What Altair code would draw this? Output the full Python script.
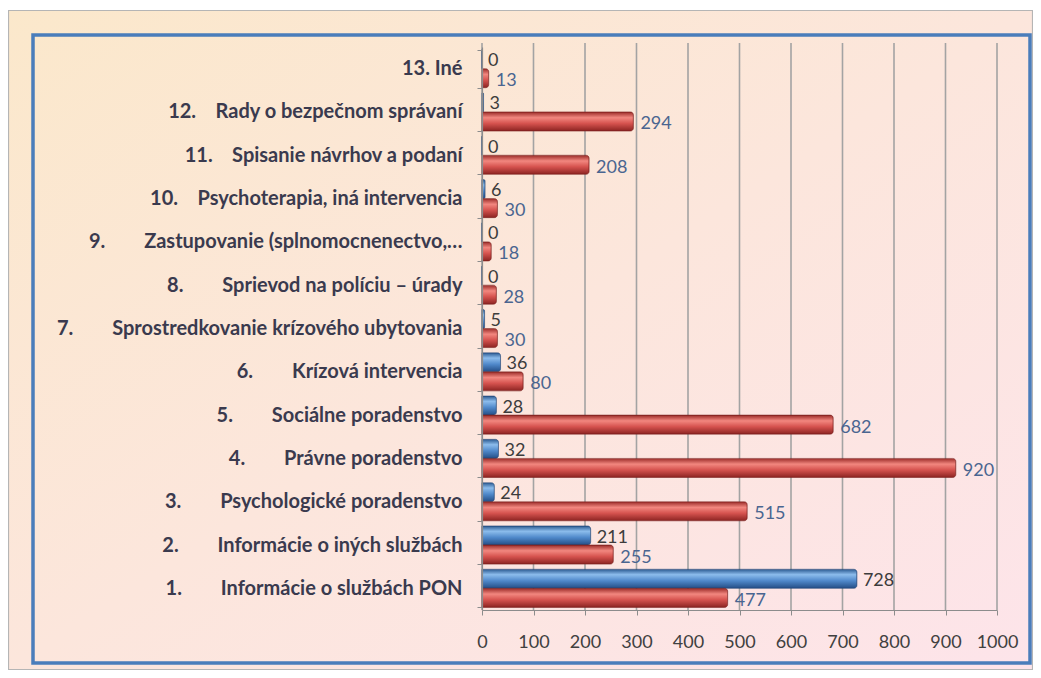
import altair as alt
import pandas as pd

# ---- data (top to bottom, as in the reference) ----
nums = ["13.", "12.", "11.", "10.", "9.", "8.", "7.", "6.", "5.", "4.", "3.", "2.", "1."]
names = [
    "Iné",
    "Rady o bezpečnom správaní",
    "Spisanie návrhov a podaní",
    "Psychoterapia, iná intervencia",
    "Zastupovanie (splnomocnenectvo,…",
    "Sprievod na políciu – úrady",
    "Sprostredkovanie krízového ubytovania",
    "Krízová intervencia",
    "Sociálne poradenstvo",
    "Právne poradenstvo",
    "Psychologické poradenstvo",
    "Informácie o iných službách",
    "Informácie o službách PON",
]
blue_vals = [0, 3, 0, 6, 0, 0, 5, 36, 28, 32, 24, 211, 728]
red_vals = [13, 294, 208, 30, 18, 28, 30, 80, 682, 920, 515, 255, 477]
x_ticks = [0, 100, 200, 300, 400, 500, 600, 700, 800, 900, 1000]

NB = "\u00a0"
labels = []
for n, t in zip(nums, names):
    if n == "13.":
        sep = " "
    elif len(n) == 3:
        sep = NB * 4
    else:
        sep = NB * 8
    labels.append(n + sep + t)

rows = []
for lab, b, r in zip(labels, blue_vals, red_vals):
    rows.append({"cat": lab, "series": "s1", "value": b})
    rows.append({"cat": lab, "series": "s2", "value": r})
df = pd.DataFrame(rows)
grid_df = pd.DataFrame({"v": x_ticks})
one = pd.DataFrame({"k": [0]})

W, H = 515, 563
PL, PT, PR, PB = 474, 39, 36, 60
FONT = "Lato"

# ---- decoration ----
bg = alt.Chart(one).mark_rect(
    color=alt.Gradient(
        gradient="linear",
        stops=[
            alt.GradientStop(color="#fbe8cb", offset=0),
            alt.GradientStop(color="#fce6dc", offset=0.5),
            alt.GradientStop(color="#fde4ea", offset=1),
        ],
        x1=0, y1=0, x2=1, y2=1,
    )
).encode(
    x=alt.value(-PL), x2=alt.value(W + PR), y=alt.value(-PT + 2), y2=alt.value(H + PB)
)

gray_frame = alt.Chart(one).mark_rect(
    fillOpacity=0, stroke="#b5b5b5", strokeWidth=1.2
).encode(
    x=alt.value(-PL + 0.5), x2=alt.value(W + PR - 0.5), y=alt.value(-PT + 2.5), y2=alt.value(H + PB - 0.5)
)

blue_frame = alt.Chart(one).mark_rect(
    fillOpacity=0, stroke="#4a7dbb", strokeWidth=3.5
).encode(
    x=alt.value(-449), x2=alt.value(548), y=alt.value(-12), y2=alt.value(616)
)

grid = alt.Chart(grid_df).mark_rule(color="#a3a3a3", strokeWidth=1.6).encode(
    x=alt.X("v:Q", scale=alt.Scale(domain=[0, 1000])),
    y=alt.value(-4),
    y2=alt.value(H),
)

# ---- bars ----
y_enc = alt.Y(
    "cat:N",
    sort=labels,
    scale=alt.Scale(paddingInner=0.12, paddingOuter=0.06),
    axis=alt.Axis(
        title=None,
        labelFont=FONT,
        labelFontWeight="bold",
        labelFontSize=20,
        labelColor="#3a3a4e",
        labelPadding=15,
        labelLimit=600,
        ticks=True,
        tickBand="extent",
        tickSize=5,
        tickColor="#8c8c8c",
        domainColor="#8c8c8c",
        domainWidth=1.2,
        zindex=1,
    ),
)
x_enc = alt.X(
    "value:Q",
    scale=alt.Scale(domain=[0, 1000], nice=False),
    axis=alt.Axis(
        title=None,
        values=x_ticks,
        format="d",
        labelOverlap=False,
        labelFlush=False,
        grid=False,
        labelFont=FONT,
        labelFontSize=18,
        labelColor="#404040",
        labelPadding=18,
        tickSize=5,
        tickColor="#8c8c8c",
        domainColor="#8c8c8c",
        domainWidth=1.2,
        zindex=1,
    ),
)
yoff = alt.YOffset("series:N", scale=alt.Scale(domain=["s1", "s2"]))

blue_grad = alt.Gradient(
    gradient="linear",
    stops=[
        alt.GradientStop(color="#2b5a91", offset=0),
        alt.GradientStop(color="#8cbcec", offset=0.28),
        alt.GradientStop(color="#5089cb", offset=0.6),
        alt.GradientStop(color="#234d85", offset=1),
    ],
    x1=0, y1=0, x2=0, y2=1,
)
red_grad = alt.Gradient(
    gradient="linear",
    stops=[
        alt.GradientStop(color="#9a2b28", offset=0),
        alt.GradientStop(color="#f2877f", offset=0.3),
        alt.GradientStop(color="#d6534f", offset=0.6),
        alt.GradientStop(color="#8c2422", offset=1),
    ],
    x1=0, y1=0, x2=0, y2=1,
)

bars_blue = alt.Chart(df).transform_filter(alt.datum.series == "s1").mark_bar(
    color=blue_grad, cornerRadiusEnd=3, stroke="#24487a", strokeWidth=0.6
).encode(x=x_enc, y=y_enc, yOffset=yoff)

bars_red = alt.Chart(df).transform_filter(alt.datum.series == "s2").mark_bar(
    color=red_grad, cornerRadiusEnd=3, stroke="#7e2220", strokeWidth=0.6
).encode(x=x_enc, y=y_enc, yOffset=yoff)

txt_blue = alt.Chart(df).transform_filter(alt.datum.series == "s1").mark_text(
    align="left", baseline="middle", dx=6, dy=2, font=FONT, fontSize=18, color="#3c3c3c"
).encode(x=x_enc, y=y_enc, yOffset=yoff, text="value:Q")

txt_red = alt.Chart(df).transform_filter(alt.datum.series == "s2").mark_text(
    align="left", baseline="middle", dx=7, dy=3, font=FONT, fontSize=18, color="#4a6590"
).encode(x=x_enc, y=y_enc, yOffset=yoff, text="value:Q")

chart = alt.layer(
    bg, gray_frame, blue_frame, grid, bars_blue, bars_red, txt_blue, txt_red
).properties(
    width=W,
    height=H,
    padding={"left": PL, "top": PT, "right": PR, "bottom": PB},
    autosize=alt.AutoSizeParams(type="none"),
    background="white",
).configure_view(stroke=None)

chart.save("out.html", embed_options={"renderer": "svg", "actions": False})
